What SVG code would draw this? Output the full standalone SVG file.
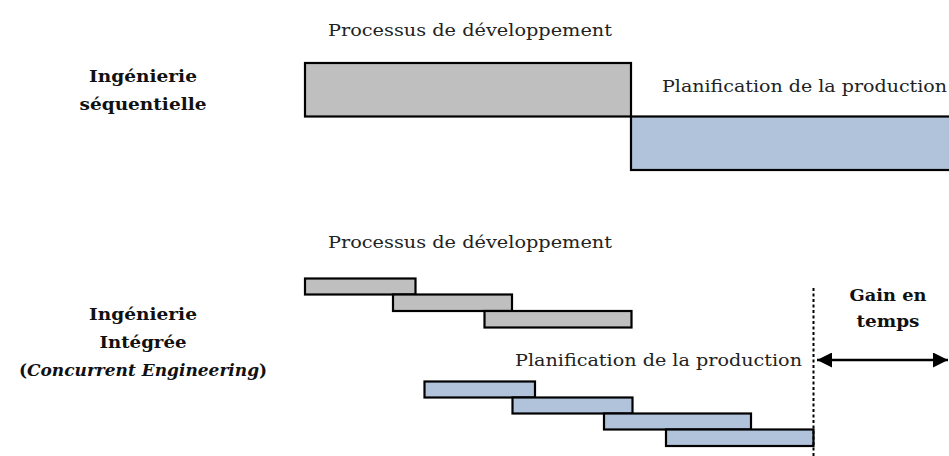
<svg xmlns="http://www.w3.org/2000/svg" width="949" height="456" viewBox="0 0 949 456">
<style>
  .t { font-family: "DejaVu Serif", "Liberation Serif", serif; font-size: 17px; fill: #222; }
  .b { font-family: "DejaVu Serif", "Liberation Serif", serif; font-size: 17px; font-weight: bold; fill: #111; text-anchor: middle; }
  .gray { fill: #BFBFBF; stroke: #000; stroke-width: 2.2; }
  .blue { fill: #B0C3DB; stroke: #000; stroke-width: 2.2; }
</style>
<defs>
  <marker id="ah" viewBox="0 0 10 10" refX="10" refY="5" markerWidth="6" markerHeight="6" orient="auto-start-reverse" markerUnits="strokeWidth">
    <path d="M0,0 L10,5 L0,10 z" fill="#000"/>
  </marker>
</defs>
<rect width="949" height="456" fill="#fff"/>

<g id="label-sequentielle">
  <text class="b" x="143" y="82" textLength="108" lengthAdjust="spacingAndGlyphs">Ingénierie</text>
  <text class="b" x="143" y="110" textLength="127" lengthAdjust="spacingAndGlyphs">séquentielle</text>
</g>
<g id="label-integree">
  <text class="b" x="143" y="320" textLength="108" lengthAdjust="spacingAndGlyphs">Ingénierie</text>
  <text class="b" x="143" y="348" textLength="87" lengthAdjust="spacingAndGlyphs">Intégrée</text>
  <text class="b" x="143" y="376">(<tspan font-style="italic">Concurrent Engineering</tspan>)</text>
</g>

<g id="seq-dev">
  <text class="t" x="328" y="36" textLength="284" lengthAdjust="spacingAndGlyphs">Processus de développement</text>
  <rect class="gray" x="305" y="63" width="326" height="53.5"/>
</g>
<g id="seq-prod">
  <text class="t" x="662" y="92" textLength="285" lengthAdjust="spacingAndGlyphs">Planification de la production</text>
  <rect class="blue" x="631" y="116.5" width="330" height="53.5"/>
</g>

<g id="int-dev">
  <text class="t" x="328" y="248" textLength="284" lengthAdjust="spacingAndGlyphs">Processus de développement</text>
  <rect class="gray" x="305" y="278.5" width="110.5" height="16"/>
  <rect class="gray" x="393" y="294.5" width="119" height="16.5"/>
  <rect class="gray" x="484.5" y="311" width="147" height="16.5"/>
</g>
<g id="int-prod">
  <text class="t" x="515" y="366" textLength="287" lengthAdjust="spacingAndGlyphs">Planification de la production</text>
  <rect class="blue" x="424.5" y="381.5" width="110.5" height="16"/>
  <rect class="blue" x="512.5" y="397.5" width="120" height="16"/>
  <rect class="blue" x="604" y="413.5" width="147" height="16"/>
  <rect class="blue" x="666" y="429.5" width="147.5" height="16.5"/>
</g>

<g id="gain">
  <text class="b" x="888" y="301" textLength="77" lengthAdjust="spacingAndGlyphs">Gain en</text>
  <text class="b" x="888" y="327" textLength="63" lengthAdjust="spacingAndGlyphs">temps</text>
</g>

<g id="connectors">
  <line x1="813.5" y1="288" x2="813.5" y2="456" stroke="#000" stroke-width="2" stroke-dasharray="3,2.5"/>
  <line x1="817" y1="360" x2="948" y2="360" stroke="#000" stroke-width="2.5" marker-start="url(#ah)" marker-end="url(#ah)"/>
</g>
</svg>
